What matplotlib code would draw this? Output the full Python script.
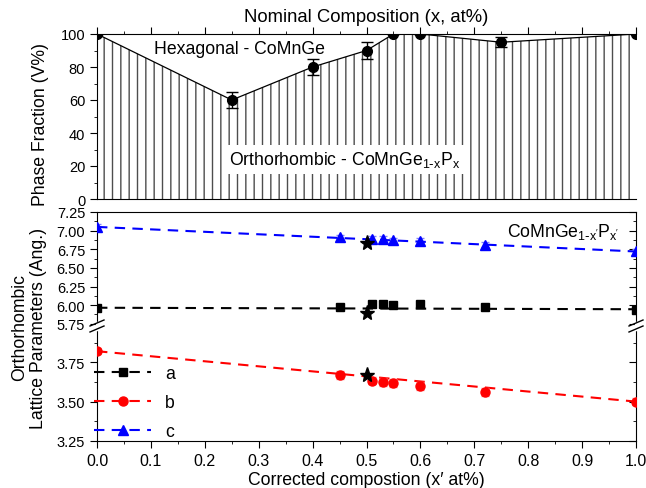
import numpy as np
import matplotlib
matplotlib.use("Agg")
import matplotlib.pyplot as plt
from matplotlib.lines import Line2D
from matplotlib.ticker import MultipleLocator, FixedLocator, FormatStrFormatter

plt.rcParams["font.family"] = ["Liberation Sans", "DejaVu Sans"]
plt.rcParams["mathtext.default"] = "regular"
plt.rcParams["hatch.linewidth"] = 1.0

# ---- phase fraction (top panel) ----
nominal_x = [0.0, 0.25, 0.40, 0.50, 0.55, 0.60, 0.75, 1.0]
hex_fraction = [100, 60, 80, 90, 100, 100, 95, 100]
hex_err = [0, 5, 5, 5, 0, 0, 3, 0]

# ---- lattice parameters (bottom panel) ----
corrected_x = [0.0, 0.45, 0.51, 0.53, 0.55, 0.60, 0.72, 1.0]
param_a = [5.96, 5.98, 6.01, 6.01, 6.00, 6.01, 5.97, 5.93]
param_b = [3.82, 3.67, 3.634, 3.625, 3.62, 3.60, 3.56, 3.50]
param_c = [7.05, 6.91, 6.89, 6.89, 6.87, 6.86, 6.81, 6.72]
err_a = [0.02, 0.02, 0.02, 0.02, 0.02, 0.02, 0.02, 0.02]
err_b = [0.02, 0.025, 0.025, 0.025, 0.025, 0.025, 0.025, 0.02]
err_c = [0.04, 0.035, 0.035, 0.035, 0.035, 0.035, 0.035, 0.04]

fit_x = [0.0, 1.0]
fit_a = [5.965, 5.945]
fit_b = [3.82, 3.50]
fit_c = [7.05, 6.72]

# starred reference sample at x' = 0.5
star_x = [0.5, 0.5, 0.5]
star_y = [5.90, 6.83, 3.67]

W, H = 646, 489
fig = plt.figure(figsize=(W / 100, H / 100), dpi=100)
fig.patch.set_facecolor("white")

L, R = 97 / W, 636 / W
FS = 12.7


def box(top_px, bot_px):
    return [L, 1 - bot_px / H, R - L, (bot_px - top_px) / H]


ax_top = fig.add_axes(box(35, 200))
ax_up = fig.add_axes(box(213, 327))
ax_lo = fig.add_axes(box(327, 442))

# ---------------- top panel ----------------
ax_top.fill_between(nominal_x, 0, hex_fraction, facecolor="white",
                    edgecolor="0.3", hatch="||", linewidth=0, zorder=1)
ax_top.plot(nominal_x, hex_fraction, color="black", lw=0.9, zorder=2)
ax_top.errorbar(nominal_x, hex_fraction, yerr=hex_err, fmt="o", color="black",
                ms=7, capsize=4, elinewidth=1, capthick=1, zorder=3)
ax_top.set_xlim(0, 1)
ax_top.set_ylim(0, 100)
ax_top.xaxis.set_ticks_position("top")
ax_top.xaxis.set_label_position("top")
ax_top.xaxis.set_major_locator(MultipleLocator(0.1))
ax_top.xaxis.set_minor_locator(MultipleLocator(0.05))
ax_top.tick_params(axis="x", which="both", direction="out", labeltop=False,
                   labelbottom=False)
ax_top.yaxis.set_major_locator(MultipleLocator(20))
ax_top.yaxis.set_minor_locator(MultipleLocator(10))
ax_top.tick_params(axis="y", which="both", direction="out", labelsize=10.5)
ax_top.tick_params(which="major", length=5)
ax_top.tick_params(which="minor", length=2.5)
ax_top.spines["right"].set_visible(False)
ax_top.set_xlabel("Nominal Composition (x, at%)", fontsize=13.3, labelpad=4)
ax_top.text(0.265, 91, "Hexagonal - CoMnGe", fontsize=FS, ha="center",
            va="center", zorder=4)
ax_top.text(0.46, 24, r"Orthorhombic - CoMnGe$_{1\text{-}x}$P$_x$", fontsize=FS,
            ha="center", va="center", zorder=4,
            bbox=dict(boxstyle="square,pad=0.25", fc="white", ec="none"))

# ---------------- bottom panel (broken axis) ----------------
series = [
    (param_a, err_a, fit_a, "black", "s", 5.5, "#555555", "a"),
    (param_b, err_b, fit_b, "red", "o", 6.5, "#ff8080", "b"),
    (param_c, err_c, fit_c, "blue", "^", 7, "#8080ff", "c"),
]
for ax in (ax_up, ax_lo):
    for vals, err, fit, col, mk, ms, ecol, lab in series:
        ax.plot(fit_x, fit, ls=(0, (5, 3.5)), color=col, lw=1.5, zorder=2)
        ax.errorbar(corrected_x, vals, yerr=err, fmt=mk, color=col, ms=ms,
                    ecolor=ecol, elinewidth=1, capsize=3, capthick=1, zorder=3)
    ax.plot(star_x, star_y, ls="none", marker="*", color="black", ms=11, zorder=4)
    ax.set_xlim(0, 1)
    ax.tick_params(axis="y", which="both", left=True, right=True,
                   labelsize=10.5)
    ax.tick_params(axis="y", which="major", direction="out", length=5)
    ax.tick_params(axis="y", which="minor", direction="out", length=2.5)
    ax.yaxis.set_major_formatter(FormatStrFormatter("%.2f"))

ax_up.set_ylim(5.72, 7.25)
ax_up.yaxis.set_major_locator(MultipleLocator(0.25))
ax_up.yaxis.set_minor_locator(MultipleLocator(0.125))
ax_up.spines["bottom"].set_visible(False)
ax_up.tick_params(axis="x", which="both", bottom=False, top=False,
                  labelbottom=False)

ax_lo.set_ylim(3.25, 3.98)
ax_lo.yaxis.set_major_locator(FixedLocator([3.25, 3.50, 3.75]))
ax_lo.yaxis.set_minor_locator(FixedLocator([3.375, 3.625, 3.875]))
ax_lo.spines["top"].set_visible(False)
ax_lo.xaxis.set_major_locator(MultipleLocator(0.1))
ax_lo.xaxis.set_minor_locator(MultipleLocator(0.05))
ax_lo.tick_params(axis="x", which="both", direction="out", top=False,
                  labelsize=11.5)
ax_lo.tick_params(axis="x", which="major", length=5)
ax_lo.tick_params(axis="x", which="minor", length=2.5)
ax_lo.set_xlabel("Corrected compostion (x\u2032 at%)", fontsize=FS, labelpad=2)

# right-side ticks point inward
for ax in (ax_up, ax_lo):
    for t in ax.yaxis.get_major_ticks() + ax.yaxis.get_minor_ticks():
        t.tick2line.set_marker(matplotlib.lines.TICKLEFT)

ax_up.text(0.97, 0.83, r"CoMnGe$_{1\text{-}x'}$P$_{x'}$", transform=ax_up.transAxes,
           fontsize=FS, ha="right", va="center")

handles = [Line2D([], [], color=c, ls=(0, (5, 3.5)), lw=1.5, marker=m, ms=ms)
           for _, _, _, c, m, ms, _, _ in series]
ax_lo.legend(handles, ["a", "b", "c"], loc="lower left",
             bbox_to_anchor=(-0.005, 0.01), frameon=False, fontsize=FS,
             handlelength=3.2, handletextpad=0.8, labelspacing=0.68,
             borderpad=0, borderaxespad=0)

# break marks on both spines
yb = 1 - 327 / H
for xs in (L, R):
    fig.add_artist(Line2D([xs, xs], [yb - 3 / H, yb + 3 / H], color="white",
                          lw=2.5, transform=fig.transFigure, zorder=10))
    for dy in (-3, 3):
        fig.add_artist(Line2D([xs - 7 / W, xs + 7 / W],
                              [yb + (dy - 3) / H, yb + (dy + 3) / H],
                              color="black", lw=1, transform=fig.transFigure,
                              zorder=11))

# y labels placed by hand
fig.text(41 / W, 1 - 125 / H, "Phase Fraction (V%)", rotation=90,
         ha="center", va="center", fontsize=FS)
fig.text(29 / W, 1 - 328 / H, "Orthorhombic\nLattice Parameters (Ang.)",
         rotation=90, ha="center", va="center", fontsize=FS, linespacing=1.2)

fig.savefig("out.png", dpi=100, facecolor="white")
